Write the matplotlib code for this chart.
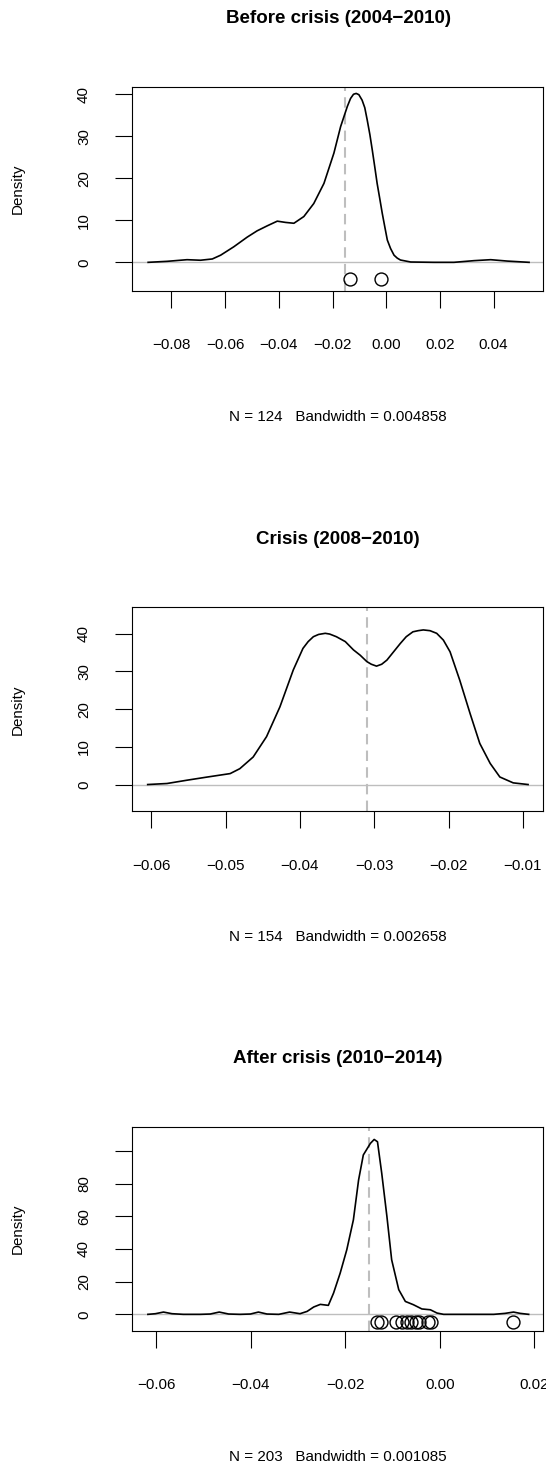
import matplotlib.pyplot as plt

plt.rcParams['font.family'] = ['Liberation Sans', 'DejaVu Sans']

# ---- text ----
titles = ['Before crisis (2004\u22122010)', 'Crisis (2008\u22122010)', 'After crisis (2010\u22122014)']
footers = ['N = 124   Bandwidth = 0.004858',
           'N = 154   Bandwidth = 0.002658',
           'N = 203   Bandwidth = 0.001085']

# ---- density curves ----
before_x = [-0.0887, -0.0816, -0.0742, -0.0692, -0.0648, -0.0617, -0.0568, -0.0518,
            -0.0481, -0.0443, -0.0406, -0.0375, -0.0344, -0.0307, -0.0270, -0.0232,
            -0.0195, -0.0170, -0.0145, -0.0133, -0.0122, -0.0112, -0.0102, -0.0090,
            -0.0080, -0.0071, -0.0061, -0.0052, -0.0043, -0.0034, -0.0024, -0.0015,
            -0.0005, 0.0004, 0.0016, 0.0029, 0.0041, 0.0053, 0.0091, 0.0178,
            0.0252, 0.0327, 0.0389, 0.0451, 0.0532]
before_y = [0.0, 0.24, 0.63, 0.5, 0.8, 1.7, 3.7, 6.0,
            7.5, 8.7, 9.8, 9.5, 9.3, 10.9, 14.0, 18.8,
            26.0, 32.3, 37.1, 39.0, 40.0, 40.2, 39.9, 38.6,
            36.8, 33.9, 30.4, 26.7, 22.8, 18.8, 15.1, 11.7,
            8.3, 5.3, 3.3, 1.7, 1.0, 0.55, 0.08, 0.0,
            0.0, 0.4, 0.63, 0.3, 0.0]

crisis_x = [-0.0605, -0.0579, -0.0552, -0.0526, -0.0494, -0.0481, -0.0463, -0.0445,
            -0.0427, -0.0409, -0.0396, -0.0389, -0.0382, -0.0375, -0.0366, -0.0360,
            -0.0351, -0.0339, -0.0328, -0.0319, -0.0310, -0.0304, -0.0297, -0.0290,
            -0.0283, -0.0274, -0.0265, -0.0257, -0.0248, -0.0241, -0.0234, -0.0225,
            -0.0216, -0.0207, -0.0198, -0.0185, -0.0171, -0.0158, -0.0144, -0.0131,
            -0.0113, -0.0093]
crisis_y = [0.0, 0.27, 1.15, 1.95, 2.9, 4.2, 7.3, 12.7,
            20.6, 30.4, 36.1, 37.9, 39.2, 39.8, 40.1, 39.9,
            39.2, 37.9, 35.7, 34.3, 32.6, 31.9, 31.4, 31.9,
            33.0, 35.2, 37.4, 39.2, 40.5, 40.8, 41.0, 40.8,
            40.1, 38.3, 35.2, 27.7, 18.8, 10.9, 5.6, 2.0,
            0.44, 0.0]

after_x = [-0.0618, -0.0602, -0.0585, -0.0567, -0.0543, -0.0507, -0.0486, -0.0467,
           -0.0447, -0.0423, -0.0401, -0.0384, -0.0366, -0.0341, -0.0318, -0.0296,
           -0.0281, -0.0267, -0.0253, -0.0236, -0.0225, -0.0211, -0.0197, -0.0183,
           -0.0172, -0.0162, -0.0147, -0.0139, -0.0132, -0.0123, -0.0112, -0.0102,
           -0.0087, -0.0073, -0.0056, -0.0038, -0.0020, -0.0006, 0.0008, 0.0057,
           0.0114, 0.0138, 0.0156, 0.0170, 0.0188]
after_y = [0.0, 0.4, 1.4, 0.4, 0.0, 0.0, 0.2, 1.4,
           0.2, 0.0, 0.2, 1.4, 0.2, 0.0, 1.4, 0.4,
           1.8, 4.5, 6.1, 5.5, 13.0, 25.2, 39.5, 57.8,
           82.2, 97.5, 104.6, 107.0, 105.6, 86.3, 59.8, 33.4,
           15.1, 7.9, 5.9, 3.3, 2.8, 0.8, 0.0, 0.0,
           0.0, 0.6, 1.4, 0.6, 0.0]

# ---- vertical reference lines and circle markers ----
ref_lines = [-0.0153, -0.0310, -0.0149]
before_pts = [-0.0134, -0.0019]
after_pts = [-0.0132, -0.0125, -0.0092, -0.0081, -0.0070, -0.0060, -0.0051,
             -0.0044, -0.0026, -0.0019, 0.0154]
pts_y = [-4.0, None, -4.6]

xticks = [[-0.08, -0.06, -0.04, -0.02, 0.00, 0.02, 0.04],
          [-0.06, -0.05, -0.04, -0.03, -0.02, -0.01],
          [-0.06, -0.04, -0.02, 0.00, 0.02]]
yticks = [[0, 10, 20, 30, 40], [0, 10, 20, 30, 40], [0, 20, 40, 60, 80, 100]]
ytick_labels = [['0', '10', '20', '30', '40'], ['0', '10', '20', '30', '40'],
                ['0', '20', '40', '60', '80', '']]
xlims = [(-0.0946, 0.0585), (-0.06257, -0.00725), (-0.0651, 0.0219)]
ylims = [(-6.75, 41.8), (-7.1, 47.0), (-10.0, 114.8)]

curves = [(before_x, before_y), (crisis_x, crisis_y), (after_x, after_y)]
points = [before_pts, [], after_pts]

W, H = 546, 1468
fig = plt.figure(figsize=(W / 100, H / 100), dpi=100)

left, width, height = 132.3, 411, 204
tops = [86.7, 607.3, 1126.7]

for i in range(3):
    top = tops[i]
    ax = fig.add_axes([left / W, 1 - (top + height) / H, width / W, height / H])
    ax.axhline(0, color='#BEBEBE', lw=1.0, zorder=1)
    ax.axvline(ref_lines[i], color='#BEBEBE', lw=1.5, ls=(0, (5, 3)), zorder=1)
    cx, cy = curves[i]
    ax.plot(cx, cy, color='black', lw=1.2, zorder=2)
    if points[i]:
        ax.plot(points[i], [pts_y[i]] * len(points[i]), 'o', mfc='none', mec='black',
                ms=9.3, mew=1.0, zorder=3)
    ax.set_xlim(*xlims[i])
    ax.set_ylim(*ylims[i])
    ax.set_xticks(xticks[i])
    ax.set_xticklabels([f'{v:.2f}'.replace('-', '\u2212') for v in xticks[i]])
    ax.set_yticks(yticks[i])
    ax.set_yticklabels(ytick_labels[i], rotation=90, va='center')
    ax.tick_params(direction='out', length=12.2, width=0.8, labelsize=10.9, color='black')
    ax.tick_params(axis='x', pad=22)
    ax.tick_params(axis='y', pad=17.5)
    for s in ax.spines.values():
        s.set_linewidth(0.8)

    fig.text(338 / W, 1 - (top - 68) / H, titles[i], ha='center', va='center',
             fontsize=13.5, fontweight='bold')
    fig.text(338 / W, 1 - (top + height + 126) / H, footers[i], ha='center', va='center',
             fontsize=10.9)
    fig.text(18 / W, 1 - (top + height / 2) / H, 'Density', ha='center', va='center',
             rotation=90, fontsize=10.9)

fig.savefig('out.png', dpi=100)
